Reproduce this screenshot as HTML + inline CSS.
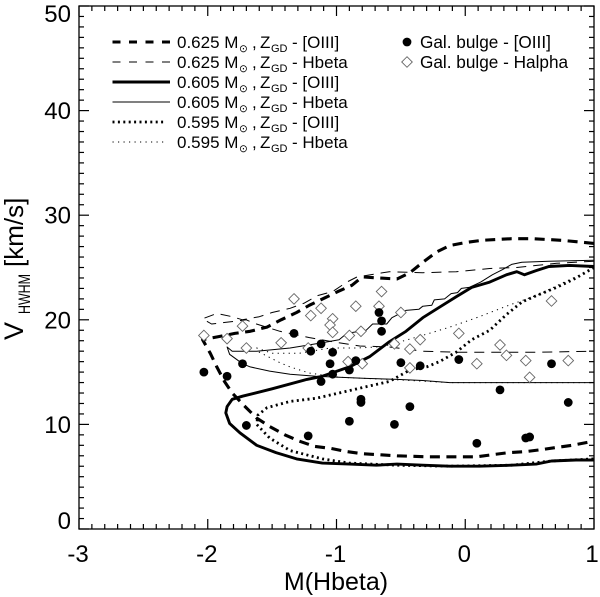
<!DOCTYPE html>
<html>
<head>
<meta charset="utf-8">
<style>
html,body{margin:0;padding:0;background:#fff;}
svg{display:block;font-family:"Liberation Sans",sans-serif;fill:#000;}
</style>
</head>
<body>
<svg id="chart" width="600" height="597" viewBox="0 0 600 597" xmlns="http://www.w3.org/2000/svg">
<defs><clipPath id="plot-clip"><rect x="79" y="6" width="515" height="523"/></clipPath></defs>
<g id="series-layer" clip-path="url(#plot-clip)"></g>
<g id="points-layer"></g>
<g id="axes-layer"></g>
<text x="336" y="590" font-size="25" text-anchor="middle">M(Hbeta)</text>
<text transform="translate(23,340) rotate(-90)" font-size="27">V<tspan x="26" dy="7" font-size="16.5" textLength="40" lengthAdjust="spacingAndGlyphs">HWHM</tspan><tspan x="73" dy="-7" font-size="26">[km/s]</tspan></text>
<g id="legend-layer"></g>
</svg>
<script>
var xTicks = [-3, -2, -1, 0, 1];
var yTicks = [0, 10, 20, 30, 40, 50];

var m625OiiiX = [1,.92,.75,.52,.36,.13,.01,-.12,-.22,-.33,-.43,-.53,-.67,-.80,-.88,-.99,-1.09,-1.21,-1.31,-1.43,-1.54,-1.67,-1.79,-1.91,-2.04,-1.98,-1.93,-1.87,-1.81,-1.71,-1.62,-1.52,-1.40,-1.29,-1.17,-1.04,-.92,-.80,-.67,-.53,-.29,-.05,.09,.21,.34,.47,.60,.71,.83,1];
var m625OiiiY = [27.3,27.4,27.6,27.75,27.75,27.6,27.4,27.1,26.5,25.5,24.5,23.9,24.0,24.1,23.3,22.7,22.1,21.4,20.7,20.0,19.3,18.9,18.7,18.4,18.1,16.8,15.5,14.1,13.0,11.7,10.6,9.8,9.0,8.4,7.9,7.7,7.4,7.2,7.1,7.0,6.9,6.9,6.9,7.1,7.3,7.4,7.6,7.8,8.0,8.4];

var m625HbetaX = [1,.71,.40,.19,-.07,-.33,-.59,-.84,-.92,-1.03,-1.15,-1.25,-1.36,-1.50,-1.60,-1.73,-1.81,-1.93,-2.04,-1.97,-1.83,-1.70,-1.65,-1.44,-1.21,-1.03,-.82,-.59,-.33,-.07,.32,.57,1];
var m625HbetaY = [25.6,25.4,25.0,24.9,24.6,24.5,24.6,24.1,23.6,22.7,22.3,21.6,21.1,20.7,20.3,20.0,20.3,20.6,20.1,19.6,19.8,20.0,19.7,18.9,18.3,17.9,17.5,17.4,17.0,16.9,16.9,16.9,17.0];

var m605OiiiX = [1,.81,.65,.55,.46,.40,.32,.19,.05,-.07,-.20,-.33,-.46,-.59,-.74,-.90,-1.11,-1.23,-1.50,-1.73,-1.81,-1.85,-1.86,-1.83,-1.75,-1.62,-1.47,-1.31,-1.11,-.90,-.69,-.53,-.33,-.12,.11,.36,.55,.67,.86,1];
var m605OiiiY = [25.1,25.2,25.1,24.7,24.3,24.6,24.3,23.6,23.1,22.2,21.2,20.2,18.9,17.9,16.5,15.5,14.6,14.3,13.4,12.7,12.4,11.7,11.1,10.1,9.2,8.0,7.3,6.7,6.3,6.2,6.1,6.2,6.1,6.0,6.0,6.1,6.2,6.5,6.6,6.6];

var m605HbetaX = [1,.65,.44,.36,.29,.21,.12,.03,-.03,-.06,-.11,-.16,-.24,-.26,-.33,-.36,-.46,-.57,-.61,-.72,-.77,-.92,-.98,-1.11,-1.36,-1.62,-1.81,-1.85,-1.83,-1.73,-1.67,-1.52,-1.36,-1.16,-.98,-.77,-.53,-.33,-.12,1];
var m605HbetaY = [25.7,25.6,25.5,25.3,24.8,24.3,23.6,23.1,23.0,22.6,22.5,22.0,21.9,21.4,21.3,21.0,20.9,20.2,19.6,19.6,19.0,18.7,18.1,17.8,17.3,17.0,17.0,17.4,16.7,15.8,15.5,15.1,14.8,14.6,14.5,14.4,14.3,14.2,14.0,14.0];

var m595OiiiX = [1,.86,.71,.57,.44,.32,.19,.05,-.07,-.20,-.30,-.43,-.59,-.77,-.98,-1.16,-1.36,-1.54,-1.61,-1.62,-1.52,-1.36,-1.11,-.90,-.53,-.12,.36,.67,1];
var m595OiiiY = [25.0,24.0,23.1,22.4,21.7,20.5,19.0,18.1,16.9,16.0,15.5,15.2,14.1,13.6,13.0,12.5,12.2,11.6,10.9,10.0,8.7,7.5,6.7,6.3,6.1,6.0,6.1,6.5,6.7];

var m595HbetaX = [1,.75,.57,.34,.11,-.12,-.36,-.59,-.69,-.84,-1.05,-1.29,-1.50,-1.62,-1.60,-1.44,-1.36,-1.21,-.98,-.59,-.12,1];
var m595HbetaY = [24.9,23.5,22.4,21.4,20.3,19.3,18.4,17.6,17.4,17.3,17.3,16.8,16.8,17.3,16.9,15.9,15.5,14.9,14.5,14.3,14.0,14.0];

var oiiiPointsX = [-2.03,-1.85,-1.73,-1.70,-1.33,-1.22,-1.20,-1.12,-1.12,-1.03,-1.05,-1.03,-.90,-.85,-.90,-.81,-.81,-.67,-.65,-.65,-.55,-.50,-.35,-.43,-.05,.09,.27,.47,.50,.67,.80];
var oiiiPointsY = [15.0,14.6,15.8,9.9,18.7,8.9,17.0,17.7,14.1,16.9,15.8,14.8,15.2,16.1,10.3,12.4,12.1,20.7,19.9,18.9,10.0,15.9,15.6,11.7,16.2,8.2,13.3,8.7,8.8,15.8,12.1];

var halphaPointsX = [-2.03,-1.85,-1.73,-1.70,-1.43,-1.33,-1.20,-1.12,-1.03,-1.05,-1.03,-.85,-.90,-.81,-.65,-.67,-.50,-.55,-1.22,-.80,-.91,-.43,-.35,-.05,.27,.67,-.43,.09,.32,.47,.80,.50];
var halphaPointsY = [18.5,18.2,19.4,17.3,17.8,22.0,20.4,21.1,20.1,19.5,18.8,21.3,18.5,18.9,22.7,21.3,20.7,17.7,17.3,15.8,16.0,17.2,18.1,18.7,17.6,21.8,15.4,15.8,16.6,16.1,16.1,14.5];

var legendLabels = ["0.625", "0.625", "0.605", "0.605", "0.595", "0.595"];
var legendLines = ["[OIII]", "Hbeta", "[OIII]", "Hbeta", "[OIII]", "Hbeta"];

var NS = 'http://www.w3.org/2000/svg';
var PLOT_LEFT = 79, PLOT_RIGHT = 594, PLOT_TOP = 6, PLOT_BOTTOM = 529;
function xScale(v) { return PLOT_LEFT + (v + 3) / 4 * (PLOT_RIGHT - PLOT_LEFT); }
function yScale(v) { return PLOT_BOTTOM - v / 50 * (PLOT_BOTTOM - PLOT_TOP); }
function make(tag, attrs, parent) {
  var el = document.createElementNS(NS, tag);
  for (var k in attrs) el.setAttribute(k, attrs[k]);
  parent.appendChild(el);
  return el;
}

var seriesLayer = document.getElementById('series-layer');
function drawSeries(xs, ys, width, dash, name) {
  var pts = xs.map(function (x, i) { return xScale(x).toFixed(1) + ',' + yScale(ys[i]).toFixed(1); }).join(' ');
  var el = make('polyline', { points: pts, fill: 'none', stroke: '#000', 'stroke-width': width, 'stroke-dasharray': dash, 'stroke-linejoin': 'round' }, seriesLayer);
  
  
}
var W_DASH_THICK = 3.1, W_SOLID_THICK = 2.9, W_THIN = 1, W_DOT_THICK = 2.8, W_DOT_THIN = 1;
drawSeries(m625HbetaX, m625HbetaY, W_THIN, '10 7', 'series-625-hbeta');
drawSeries(m605HbetaX, m605HbetaY, W_THIN, 'none', 'series-605-hbeta');
drawSeries(m595HbetaX, m595HbetaY, W_DOT_THIN, '1.2 4.3', 'series-595-hbeta');
drawSeries(m625OiiiX, m625OiiiY, W_DASH_THICK, '10 6.5', 'series-625-oiii');
drawSeries(m595OiiiX, m595OiiiY, W_DOT_THICK, '2 3.4', 'series-595-oiii');
drawSeries(m605OiiiX, m605OiiiY, W_SOLID_THICK, 'none', 'series-605-oiii');

var pointsLayer = document.getElementById('points-layer');
function drawDiamond(cx, cy, name) {
  var r = 5.3;
  var d = make('polygon', { points: cx + ',' + (cy - r) + ' ' + (cx + r) + ',' + cy + ' ' + cx + ',' + (cy + r) + ' ' + (cx - r) + ',' + cy, fill: '#fff', stroke: '#666', 'stroke-width': 0.9 }, pointsLayer);
  
  
}
function drawDot(cx, cy, name) {
  var c = make('circle', { cx: cx, cy: cy, r: 4.4, fill: '#000' }, pointsLayer);
  
  
}
halphaPointsX.forEach(function (x, i) { drawDiamond(xScale(x), yScale(halphaPointsY[i]), 'halpha-point'); });
oiiiPointsX.forEach(function (x, i) { drawDot(xScale(x), yScale(oiiiPointsY[i]), 'oiii-point'); });

var axesLayer = document.getElementById('axes-layer');
var frame = make('rect', { x: PLOT_LEFT, y: PLOT_TOP, width: PLOT_RIGHT - PLOT_LEFT, height: PLOT_BOTTOM - PLOT_TOP, fill: 'none', stroke: '#000', 'stroke-width': 1.3 }, axesLayer);


function tick(x1, y1, x2, y2) {
  var t = make('line', { x1: x1, y1: y1, x2: x2, y2: y2, stroke: '#000', 'stroke-width': 1.2 }, axesLayer);
  
  
}
var i, v, len;
for (i = 0; i <= 40; i++) {
  v = -3 + i * 0.1;
  len = i % 10 === 0 ? 10 : 5;
  tick(xScale(v), PLOT_BOTTOM, xScale(v), PLOT_BOTTOM - len);
  tick(xScale(v), PLOT_TOP, xScale(v), PLOT_TOP + len);
}
for (i = 0; i <= 50; i++) {
  len = i % 10 === 0 ? 10 : 5;
  tick(PLOT_LEFT, yScale(i), PLOT_LEFT + len, yScale(i));
  tick(PLOT_RIGHT, yScale(i), PLOT_RIGHT - len, yScale(i));
}
xTicks.forEach(function (v) {
  var t = make('text', { x: v === 1 ? 592 : xScale(v) - 1, y: 562, 'font-size': 24, 'text-anchor': 'middle' }, axesLayer);
  t.textContent = String(v);
  
  
});
yTicks.forEach(function (v) {
  var base = Math.max(22, Math.min(529, yScale(v) + 8.5));
  var t = make('text', { x: 71, y: base, 'font-size': 24, 'text-anchor': 'end' }, axesLayer);
  t.textContent = String(v);
  
  
});

var legendLayer = document.getElementById('legend-layer');
var legendStyles = [
  { w: 3.1, d: '8 8.5', x2: 170 },
  { w: 1, d: '8 8.5', x2: 170 },
  { w: 2.9, d: 'none', x2: 170 },
  { w: 1, d: 'none', x2: 170 },
  { w: 2.8, d: '2 3.4', x2: 166 },
  { w: 1, d: '1.2 4.3', x2: 166 }
];
legendLabels.forEach(function (mass, i) {
  var cy = 42 + i * 20;
  var s = legendStyles[i];
  var l = make('line', { x1: 112.5, y1: cy, x2: s.x2, y2: cy, stroke: '#000', 'stroke-width': s.w, 'stroke-dasharray': s.d }, legendLayer);
  
  
  var t = make('text', { x: 177, y: cy + 6, 'font-size': 17 }, legendLayer);
  
  
  t.appendChild(document.createTextNode(mass + ' M'));
  var sun = make('tspan', { x: 239, 'font-size': 10.5, dy: 4, 'font-family': '"DejaVu Sans",sans-serif' }, t);
  sun.textContent = '\u2299';
  var comma = make('tspan', { x: 252, dy: -4 }, t);
  comma.textContent = ',';
  var zed = make('tspan', { x: 260 }, t);
  zed.textContent = 'Z';
  var gd = make('tspan', { x: 271, 'font-size': 11, dy: 4 }, t);
  gd.textContent = 'GD';
  var rest = make('tspan', { x: 292, dy: -4 }, t);
  rest.textContent = '- ' + legendLines[i];
});
drawDot(407, 42, 'legend-oiii-marker');
drawDiamond(407, 62, 'legend-halpha-marker');
var lt1 = make('text', { x: 420, y: 48, 'font-size': 17.2 }, legendLayer);
lt1.textContent = 'Gal. bulge - [OIII]';


var lt2 = make('text', { x: 420, y: 68, 'font-size': 17.2 }, legendLayer);
lt2.textContent = 'Gal. bulge - Halpha';


</script>
</body>
</html>
